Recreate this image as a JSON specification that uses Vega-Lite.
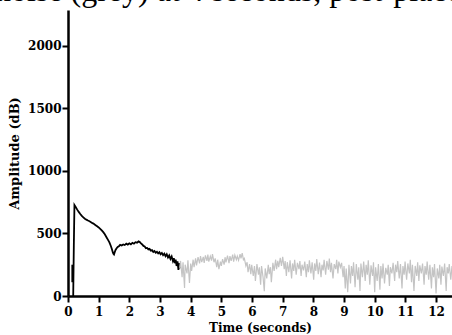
{
  "$schema": "https://vega.github.io/schema/vega-lite/v6.json",
  "width": 384,
  "height": 286,
  "autosize": {"type": "none"},
  "padding": {"left": 68, "top": 10, "right": 0, "bottom": 39},
  "background": "white",
  "title": {
    "text": "noise (grey) at 4 seconds, post-placement",
    "anchor": "start",
    "frame": "group",
    "orient": "top",
    "font": "Liberation Serif",
    "fontSize": 32,
    "fontWeight": "normal",
    "color": "black",
    "baseline": "alphabetic",
    "offset": 2,
    "dx": -73,
    "dy": 25
  },
  "config": {
    "view": {"stroke": null},
    "axis": {
      "domainColor": "black",
      "domainWidth": 2.5,
      "tickColor": "black",
      "tickWidth": 2,
      "tickSize": 6,
      "grid": false,
      "labelFont": "DejaVu Serif",
      "labelFontWeight": "bold",
      "labelFontSize": 12,
      "labelColor": "black",
      "titleFont": "DejaVu Serif",
      "titleFontWeight": "bold",
      "titleFontSize": 12,
      "titleColor": "black"
    }
  },
  "data": {
    "values": [
      {"s": "signal", "g": "a", "t": 0.14, "a": 250},
      {"s": "signal", "g": "a", "t": 0.14, "a": 110},
      {"s": "signal", "g": "b", "t": 0.17, "a": 0},
      {"s": "signal", "g": "b", "t": 0.19, "a": 400},
      {"s": "signal", "g": "b", "t": 0.21, "a": 727},
      {"s": "signal", "g": "b", "t": 0.25, "a": 712},
      {"s": "signal", "g": "b", "t": 0.30, "a": 690},
      {"s": "signal", "g": "b", "t": 0.35, "a": 672},
      {"s": "signal", "g": "b", "t": 0.40, "a": 655},
      {"s": "signal", "g": "b", "t": 0.45, "a": 640},
      {"s": "signal", "g": "b", "t": 0.50, "a": 628},
      {"s": "signal", "g": "b", "t": 0.55, "a": 618},
      {"s": "signal", "g": "b", "t": 0.60, "a": 610},
      {"s": "signal", "g": "b", "t": 0.65, "a": 603},
      {"s": "signal", "g": "b", "t": 0.70, "a": 597},
      {"s": "signal", "g": "b", "t": 0.75, "a": 590},
      {"s": "signal", "g": "b", "t": 0.80, "a": 582},
      {"s": "signal", "g": "b", "t": 0.85, "a": 575},
      {"s": "signal", "g": "b", "t": 0.90, "a": 566},
      {"s": "signal", "g": "b", "t": 0.95, "a": 557},
      {"s": "signal", "g": "b", "t": 1.00, "a": 548},
      {"s": "signal", "g": "b", "t": 1.05, "a": 537},
      {"s": "signal", "g": "b", "t": 1.10, "a": 524},
      {"s": "signal", "g": "b", "t": 1.15, "a": 510},
      {"s": "signal", "g": "b", "t": 1.20, "a": 493},
      {"s": "signal", "g": "b", "t": 1.25, "a": 472},
      {"s": "signal", "g": "b", "t": 1.30, "a": 450},
      {"s": "signal", "g": "b", "t": 1.35, "a": 428},
      {"s": "signal", "g": "b", "t": 1.40, "a": 398},
      {"s": "signal", "g": "b", "t": 1.43, "a": 375},
      {"s": "signal", "g": "b", "t": 1.46, "a": 350},
      {"s": "signal", "g": "b", "t": 1.48, "a": 338},
      {"s": "signal", "g": "b", "t": 1.50, "a": 332},
      {"s": "signal", "g": "b", "t": 1.52, "a": 348},
      {"s": "signal", "g": "b", "t": 1.55, "a": 368},
      {"s": "signal", "g": "b", "t": 1.58, "a": 380},
      {"s": "signal", "g": "b", "t": 1.62, "a": 392},
      {"s": "signal", "g": "b", "t": 1.66, "a": 398},
      {"s": "signal", "g": "b", "t": 1.70, "a": 408},
      {"s": "signal", "g": "b", "t": 1.75, "a": 403},
      {"s": "signal", "g": "b", "t": 1.80, "a": 412},
      {"s": "signal", "g": "b", "t": 1.85, "a": 407},
      {"s": "signal", "g": "b", "t": 1.90, "a": 418},
      {"s": "signal", "g": "b", "t": 1.95, "a": 411},
      {"s": "signal", "g": "b", "t": 2.00, "a": 421},
      {"s": "signal", "g": "b", "t": 2.05, "a": 413},
      {"s": "signal", "g": "b", "t": 2.10, "a": 425},
      {"s": "signal", "g": "b", "t": 2.15, "a": 418},
      {"s": "signal", "g": "b", "t": 2.20, "a": 430},
      {"s": "signal", "g": "b", "t": 2.25, "a": 426},
      {"s": "signal", "g": "b", "t": 2.30, "a": 436},
      {"s": "signal", "g": "b", "t": 2.34, "a": 431},
      {"s": "signal", "g": "b", "t": 2.38, "a": 420},
      {"s": "signal", "g": "b", "t": 2.42, "a": 412},
      {"s": "signal", "g": "b", "t": 2.46, "a": 400},
      {"s": "signal", "g": "b", "t": 2.50, "a": 396},
      {"s": "signal", "g": "b", "t": 2.54, "a": 382},
      {"s": "signal", "g": "b", "t": 2.58, "a": 384},
      {"s": "signal", "g": "b", "t": 2.62, "a": 372},
      {"s": "signal", "g": "b", "t": 2.66, "a": 376},
      {"s": "signal", "g": "b", "t": 2.70, "a": 362},
      {"s": "signal", "g": "b", "t": 2.74, "a": 366},
      {"s": "signal", "g": "b", "t": 2.78, "a": 352},
      {"s": "signal", "g": "b", "t": 2.82, "a": 360},
      {"s": "signal", "g": "b", "t": 2.86, "a": 346},
      {"s": "signal", "g": "b", "t": 2.90, "a": 354},
      {"s": "signal", "g": "b", "t": 2.94, "a": 340},
      {"s": "signal", "g": "b", "t": 2.98, "a": 350},
      {"s": "signal", "g": "b", "t": 3.02, "a": 334},
      {"s": "signal", "g": "b", "t": 3.06, "a": 344},
      {"s": "signal", "g": "b", "t": 3.10, "a": 326},
      {"s": "signal", "g": "b", "t": 3.14, "a": 338},
      {"s": "signal", "g": "b", "t": 3.18, "a": 318},
      {"s": "signal", "g": "b", "t": 3.22, "a": 334},
      {"s": "signal", "g": "b", "t": 3.26, "a": 308},
      {"s": "signal", "g": "b", "t": 3.30, "a": 324},
      {"s": "signal", "g": "b", "t": 3.34, "a": 296},
      {"s": "signal", "g": "b", "t": 3.38, "a": 316},
      {"s": "signal", "g": "b", "t": 3.42, "a": 280},
      {"s": "signal", "g": "b", "t": 3.45, "a": 302},
      {"s": "signal", "g": "b", "t": 3.48, "a": 262},
      {"s": "signal", "g": "b", "t": 3.51, "a": 290},
      {"s": "signal", "g": "b", "t": 3.54, "a": 240},
      {"s": "signal", "g": "b", "t": 3.57, "a": 276},
      {"s": "signal", "g": "b", "t": 3.60, "a": 208},
      {"s": "signal", "g": "b", "t": 3.62, "a": 262},
      {"s": "signal", "g": "b", "t": 3.64, "a": 220},
      {"s": "noise", "g": "c", "t": 3.64, "a": 225},
      {"s": "noise", "g": "c", "t": 3.67, "a": 280},
      {"s": "noise", "g": "c", "t": 3.72, "a": 150},
      {"s": "noise", "g": "c", "t": 3.75, "a": 270},
      {"s": "noise", "g": "c", "t": 3.80, "a": 64},
      {"s": "noise", "g": "c", "t": 3.82, "a": 250},
      {"s": "noise", "g": "c", "t": 3.88, "a": 180},
      {"s": "noise", "g": "c", "t": 3.91, "a": 285},
      {"s": "noise", "g": "c", "t": 3.96, "a": 104},
      {"s": "noise", "g": "c", "t": 4.00, "a": 260},
      {"s": "noise", "g": "c", "t": 4.03, "a": 200},
      {"s": "noise", "g": "c", "t": 4.08, "a": 290},
      {"s": "noise", "g": "c", "t": 4.11, "a": 230},
      {"s": "noise", "g": "c", "t": 4.16, "a": 300},
      {"s": "noise", "g": "c", "t": 4.19, "a": 245},
      {"s": "noise", "g": "c", "t": 4.24, "a": 310},
      {"s": "noise", "g": "c", "t": 4.29, "a": 260},
      {"s": "noise", "g": "c", "t": 4.32, "a": 318},
      {"s": "noise", "g": "c", "t": 4.36, "a": 270},
      {"s": "noise", "g": "c", "t": 4.41, "a": 312},
      {"s": "noise", "g": "c", "t": 4.44, "a": 265},
      {"s": "noise", "g": "c", "t": 4.48, "a": 325},
      {"s": "noise", "g": "c", "t": 4.53, "a": 280},
      {"s": "noise", "g": "c", "t": 4.56, "a": 330},
      {"s": "noise", "g": "c", "t": 4.59, "a": 275},
      {"s": "noise", "g": "c", "t": 4.64, "a": 318},
      {"s": "noise", "g": "c", "t": 4.68, "a": 282},
      {"s": "noise", "g": "c", "t": 4.71, "a": 334},
      {"s": "noise", "g": "c", "t": 4.76, "a": 270},
      {"s": "noise", "g": "c", "t": 4.80, "a": 300},
      {"s": "noise", "g": "c", "t": 4.85, "a": 230},
      {"s": "noise", "g": "c", "t": 4.88, "a": 290},
      {"s": "noise", "g": "c", "t": 4.92, "a": 215},
      {"s": "noise", "g": "c", "t": 4.97, "a": 275},
      {"s": "noise", "g": "c", "t": 5.00, "a": 240},
      {"s": "noise", "g": "c", "t": 5.04, "a": 295},
      {"s": "noise", "g": "c", "t": 5.09, "a": 250},
      {"s": "noise", "g": "c", "t": 5.12, "a": 310},
      {"s": "noise", "g": "c", "t": 5.15, "a": 268},
      {"s": "noise", "g": "c", "t": 5.20, "a": 322},
      {"s": "noise", "g": "c", "t": 5.25, "a": 262},
      {"s": "noise", "g": "c", "t": 5.28, "a": 318},
      {"s": "noise", "g": "c", "t": 5.32, "a": 280},
      {"s": "noise", "g": "c", "t": 5.37, "a": 330},
      {"s": "noise", "g": "c", "t": 5.40, "a": 275},
      {"s": "noise", "g": "c", "t": 5.44, "a": 326},
      {"s": "noise", "g": "c", "t": 5.49, "a": 290},
      {"s": "noise", "g": "c", "t": 5.52, "a": 318},
      {"s": "noise", "g": "c", "t": 5.56, "a": 285},
      {"s": "noise", "g": "c", "t": 5.61, "a": 335},
      {"s": "noise", "g": "c", "t": 5.64, "a": 300},
      {"s": "noise", "g": "c", "t": 5.68, "a": 342},
      {"s": "noise", "g": "c", "t": 5.72, "a": 290},
      {"s": "noise", "g": "c", "t": 5.75, "a": 300},
      {"s": "noise", "g": "c", "t": 5.80, "a": 240},
      {"s": "noise", "g": "c", "t": 5.84, "a": 270},
      {"s": "noise", "g": "c", "t": 5.87, "a": 190},
      {"s": "noise", "g": "c", "t": 5.92, "a": 255},
      {"s": "noise", "g": "c", "t": 5.96, "a": 175},
      {"s": "noise", "g": "c", "t": 5.99, "a": 250},
      {"s": "noise", "g": "c", "t": 6.04, "a": 160},
      {"s": "noise", "g": "c", "t": 6.08, "a": 240},
      {"s": "noise", "g": "c", "t": 6.11, "a": 120},
      {"s": "noise", "g": "c", "t": 6.16, "a": 255},
      {"s": "noise", "g": "c", "t": 6.21, "a": 170},
      {"s": "noise", "g": "c", "t": 6.24, "a": 230},
      {"s": "noise", "g": "c", "t": 6.28, "a": 90},
      {"s": "noise", "g": "c", "t": 6.31, "a": 240},
      {"s": "noise", "g": "c", "t": 6.36, "a": 150},
      {"s": "noise", "g": "c", "t": 6.40, "a": 38},
      {"s": "noise", "g": "c", "t": 6.43, "a": 220},
      {"s": "noise", "g": "c", "t": 6.48, "a": 140},
      {"s": "noise", "g": "c", "t": 6.53, "a": 250},
      {"s": "noise", "g": "c", "t": 6.56, "a": 175},
      {"s": "noise", "g": "c", "t": 6.60, "a": 230},
      {"s": "noise", "g": "c", "t": 6.63, "a": 110},
      {"s": "noise", "g": "c", "t": 6.68, "a": 265},
      {"s": "noise", "g": "c", "t": 6.72, "a": 200},
      {"s": "noise", "g": "c", "t": 6.77, "a": 290},
      {"s": "noise", "g": "c", "t": 6.80, "a": 215},
      {"s": "noise", "g": "c", "t": 6.84, "a": 280},
      {"s": "noise", "g": "c", "t": 6.87, "a": 230},
      {"s": "noise", "g": "c", "t": 6.92, "a": 305},
      {"s": "noise", "g": "c", "t": 6.96, "a": 240},
      {"s": "noise", "g": "c", "t": 7.00, "a": 312},
      {"s": "noise", "g": "c", "t": 7.05, "a": 215},
      {"s": "noise", "g": "c", "t": 7.08, "a": 280},
      {"s": "noise", "g": "c", "t": 7.12, "a": 160},
      {"s": "noise", "g": "c", "t": 7.15, "a": 270},
      {"s": "noise", "g": "c", "t": 7.20, "a": 190},
      {"s": "noise", "g": "c", "t": 7.24, "a": 285},
      {"s": "noise", "g": "c", "t": 7.29, "a": 140},
      {"s": "noise", "g": "c", "t": 7.32, "a": 260},
      {"s": "noise", "g": "c", "t": 7.36, "a": 200},
      {"s": "noise", "g": "c", "t": 7.39, "a": 290},
      {"s": "noise", "g": "c", "t": 7.44, "a": 170},
      {"s": "noise", "g": "c", "t": 7.48, "a": 265},
      {"s": "noise", "g": "c", "t": 7.53, "a": 215},
      {"s": "noise", "g": "c", "t": 7.56, "a": 280},
      {"s": "noise", "g": "c", "t": 7.60, "a": 160},
      {"s": "noise", "g": "c", "t": 7.63, "a": 250},
      {"s": "noise", "g": "c", "t": 7.68, "a": 205},
      {"s": "noise", "g": "c", "t": 7.72, "a": 275},
      {"s": "noise", "g": "c", "t": 7.77, "a": 150},
      {"s": "noise", "g": "c", "t": 7.80, "a": 255},
      {"s": "noise", "g": "c", "t": 7.84, "a": 190},
      {"s": "noise", "g": "c", "t": 7.87, "a": 285},
      {"s": "noise", "g": "c", "t": 7.92, "a": 180},
      {"s": "noise", "g": "c", "t": 7.96, "a": 270},
      {"s": "noise", "g": "c", "t": 8.01, "a": 130},
      {"s": "noise", "g": "c", "t": 8.04, "a": 260},
      {"s": "noise", "g": "c", "t": 8.08, "a": 200},
      {"s": "noise", "g": "c", "t": 8.11, "a": 295},
      {"s": "noise", "g": "c", "t": 8.16, "a": 175},
      {"s": "noise", "g": "c", "t": 8.20, "a": 268},
      {"s": "noise", "g": "c", "t": 8.25, "a": 150},
      {"s": "noise", "g": "c", "t": 8.28, "a": 250},
      {"s": "noise", "g": "c", "t": 8.32, "a": 205},
      {"s": "noise", "g": "c", "t": 8.35, "a": 290},
      {"s": "noise", "g": "c", "t": 8.40, "a": 170},
      {"s": "noise", "g": "c", "t": 8.44, "a": 280},
      {"s": "noise", "g": "c", "t": 8.49, "a": 210},
      {"s": "noise", "g": "c", "t": 8.52, "a": 300},
      {"s": "noise", "g": "c", "t": 8.56, "a": 190},
      {"s": "noise", "g": "c", "t": 8.59, "a": 265},
      {"s": "noise", "g": "c", "t": 8.64, "a": 140},
      {"s": "noise", "g": "c", "t": 8.68, "a": 255},
      {"s": "noise", "g": "c", "t": 8.73, "a": 215},
      {"s": "noise", "g": "c", "t": 8.76, "a": 290},
      {"s": "noise", "g": "c", "t": 8.80, "a": 180},
      {"s": "noise", "g": "c", "t": 8.83, "a": 275},
      {"s": "noise", "g": "c", "t": 8.88, "a": 230},
      {"s": "noise", "g": "c", "t": 8.92, "a": 265},
      {"s": "noise", "g": "c", "t": 8.97, "a": 150},
      {"s": "noise", "g": "c", "t": 9.00, "a": 240},
      {"s": "noise", "g": "c", "t": 9.04, "a": 60},
      {"s": "noise", "g": "c", "t": 9.07, "a": 220},
      {"s": "noise", "g": "c", "t": 9.12, "a": 30},
      {"s": "noise", "g": "c", "t": 9.16, "a": 250},
      {"s": "noise", "g": "c", "t": 9.21, "a": 100},
      {"s": "noise", "g": "c", "t": 9.24, "a": 240},
      {"s": "noise", "g": "c", "t": 9.28, "a": 160},
      {"s": "noise", "g": "c", "t": 9.31, "a": 270},
      {"s": "noise", "g": "c", "t": 9.36, "a": 70},
      {"s": "noise", "g": "c", "t": 9.40, "a": 255},
      {"s": "noise", "g": "c", "t": 9.45, "a": 130},
      {"s": "noise", "g": "c", "t": 9.48, "a": 230},
      {"s": "noise", "g": "c", "t": 9.52, "a": 40},
      {"s": "noise", "g": "c", "t": 9.55, "a": 260},
      {"s": "noise", "g": "c", "t": 9.60, "a": 150},
      {"s": "noise", "g": "c", "t": 9.64, "a": 275},
      {"s": "noise", "g": "c", "t": 9.69, "a": 120},
      {"s": "noise", "g": "c", "t": 9.72, "a": 250},
      {"s": "noise", "g": "c", "t": 9.76, "a": 170},
      {"s": "noise", "g": "c", "t": 9.79, "a": 285},
      {"s": "noise", "g": "c", "t": 9.84, "a": 90},
      {"s": "noise", "g": "c", "t": 9.88, "a": 245},
      {"s": "noise", "g": "c", "t": 9.93, "a": 160},
      {"s": "noise", "g": "c", "t": 9.96, "a": 270},
      {"s": "noise", "g": "c", "t": 10.00, "a": 30},
      {"s": "noise", "g": "c", "t": 10.03, "a": 230},
      {"s": "noise", "g": "c", "t": 10.08, "a": 120},
      {"s": "noise", "g": "c", "t": 10.12, "a": 255},
      {"s": "noise", "g": "c", "t": 10.17, "a": 50},
      {"s": "noise", "g": "c", "t": 10.20, "a": 240},
      {"s": "noise", "g": "c", "t": 10.24, "a": 140},
      {"s": "noise", "g": "c", "t": 10.27, "a": 260},
      {"s": "noise", "g": "c", "t": 10.32, "a": 100},
      {"s": "noise", "g": "c", "t": 10.36, "a": 225},
      {"s": "noise", "g": "c", "t": 10.41, "a": 170},
      {"s": "noise", "g": "c", "t": 10.44, "a": 250},
      {"s": "noise", "g": "c", "t": 10.48, "a": 80},
      {"s": "noise", "g": "c", "t": 10.51, "a": 230},
      {"s": "noise", "g": "c", "t": 10.56, "a": 180},
      {"s": "noise", "g": "c", "t": 10.60, "a": 265},
      {"s": "noise", "g": "c", "t": 10.65, "a": 120},
      {"s": "noise", "g": "c", "t": 10.68, "a": 250},
      {"s": "noise", "g": "c", "t": 10.72, "a": 190},
      {"s": "noise", "g": "c", "t": 10.75, "a": 280},
      {"s": "noise", "g": "c", "t": 10.80, "a": 140},
      {"s": "noise", "g": "c", "t": 10.84, "a": 255},
      {"s": "noise", "g": "c", "t": 10.89, "a": 60},
      {"s": "noise", "g": "c", "t": 10.92, "a": 240},
      {"s": "noise", "g": "c", "t": 10.96, "a": 170},
      {"s": "noise", "g": "c", "t": 10.99, "a": 275},
      {"s": "noise", "g": "c", "t": 11.04, "a": 130},
      {"s": "noise", "g": "c", "t": 11.08, "a": 260},
      {"s": "noise", "g": "c", "t": 11.13, "a": 180},
      {"s": "noise", "g": "c", "t": 11.16, "a": 290},
      {"s": "noise", "g": "c", "t": 11.20, "a": 110},
      {"s": "noise", "g": "c", "t": 11.23, "a": 250},
      {"s": "noise", "g": "c", "t": 11.28, "a": 40},
      {"s": "noise", "g": "c", "t": 11.32, "a": 240},
      {"s": "noise", "g": "c", "t": 11.37, "a": 160},
      {"s": "noise", "g": "c", "t": 11.40, "a": 270},
      {"s": "noise", "g": "c", "t": 11.44, "a": 120},
      {"s": "noise", "g": "c", "t": 11.47, "a": 245},
      {"s": "noise", "g": "c", "t": 11.52, "a": 180},
      {"s": "noise", "g": "c", "t": 11.56, "a": 260},
      {"s": "noise", "g": "c", "t": 11.61, "a": 90},
      {"s": "noise", "g": "c", "t": 11.64, "a": 240},
      {"s": "noise", "g": "c", "t": 11.68, "a": 170},
      {"s": "noise", "g": "c", "t": 11.71, "a": 275},
      {"s": "noise", "g": "c", "t": 11.76, "a": 130},
      {"s": "noise", "g": "c", "t": 11.80, "a": 250},
      {"s": "noise", "g": "c", "t": 11.85, "a": 60},
      {"s": "noise", "g": "c", "t": 11.88, "a": 230},
      {"s": "noise", "g": "c", "t": 11.92, "a": 150},
      {"s": "noise", "g": "c", "t": 11.95, "a": 255},
      {"s": "noise", "g": "c", "t": 12.00, "a": 20},
      {"s": "noise", "g": "c", "t": 12.04, "a": 220},
      {"s": "noise", "g": "c", "t": 12.09, "a": 140},
      {"s": "noise", "g": "c", "t": 12.12, "a": 250},
      {"s": "noise", "g": "c", "t": 12.16, "a": 90},
      {"s": "noise", "g": "c", "t": 12.19, "a": 235},
      {"s": "noise", "g": "c", "t": 12.24, "a": 160},
      {"s": "noise", "g": "c", "t": 12.28, "a": 260},
      {"s": "noise", "g": "c", "t": 12.33, "a": 40},
      {"s": "noise", "g": "c", "t": 12.36, "a": 230},
      {"s": "noise", "g": "c", "t": 12.40, "a": 180},
      {"s": "noise", "g": "c", "t": 12.43, "a": 255},
      {"s": "noise", "g": "c", "t": 12.48, "a": 130},
      {"s": "noise", "g": "c", "t": 12.52, "a": 240},
      {"s": "noise", "g": "c", "t": 12.56, "a": 170}
    ]
  },
  "mark": {"type": "line", "clip": true, "interpolate": "linear"},
  "encoding": {
    "x": {
      "field": "t",
      "type": "quantitative",
      "scale": {"domain": [0, 12.52], "nice": false, "zero": false},
      "axis": {"values": [0, 1, 2, 3, 4, 5, 6, 7, 8, 9, 10, 11, 12], "title": "Time (seconds)", "labelPadding": 4, "titlePadding": 5, "labelFlush": false}
    },
    "y": {
      "field": "a",
      "type": "quantitative",
      "scale": {"domain": [0, 2285], "nice": false},
      "axis": {"values": [0, 500, 1000, 1500, 2000], "format": "d", "title": "Amplitude (dB)", "titleFontSize": 13, "labelPadding": 1, "titlePadding": 6}
    },
    "detail": {"field": "g"},
    "order": {"field": "t"},
    "color": {
      "field": "s",
      "type": "nominal",
      "scale": {"domain": ["signal", "noise"], "range": ["#000000", "#c4c4c4"]},
      "legend": null
    },
    "strokeWidth": {
      "field": "s",
      "type": "nominal",
      "scale": {"domain": ["signal", "noise"], "range": [1.8, 1.2]},
      "legend": null
    }
  }
}
